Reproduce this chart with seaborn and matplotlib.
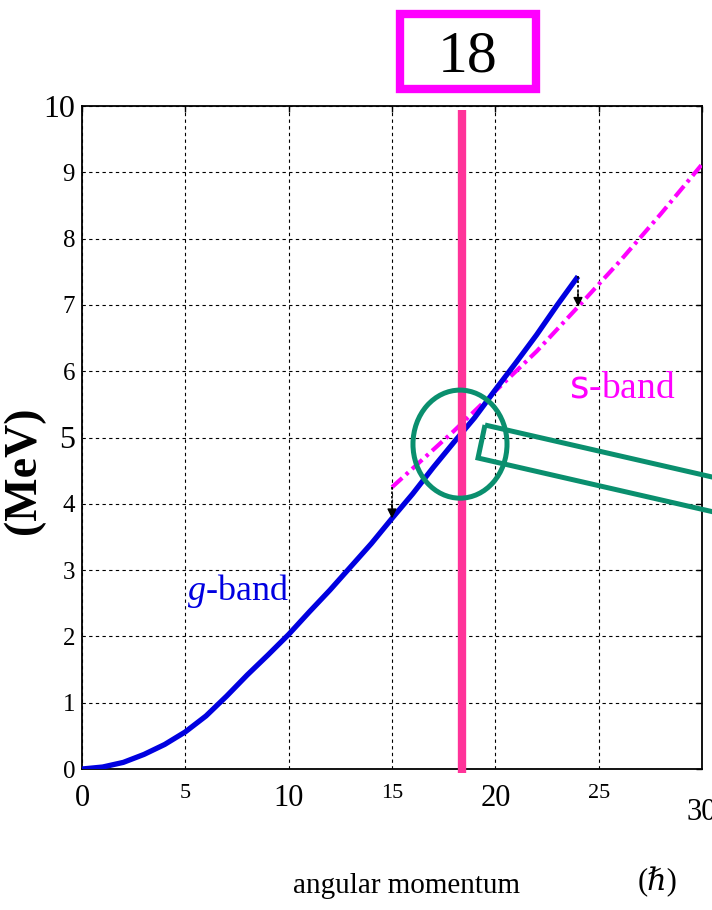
import matplotlib
matplotlib.use("Agg")
import numpy as np
import pandas as pd
import matplotlib.pyplot as plt
import seaborn as sns
from matplotlib.patches import Ellipse, Polygon, Rectangle
from matplotlib.transforms import ScaledTranslation

# ---------------- data ----------------
g_spin = [0, 1, 2, 3, 4, 5, 6, 7, 8, 9, 10, 11, 12, 13, 14, 15, 16, 17, 18, 19, 20, 21, 22, 23, 24]
g_energy = [0.0, 0.03, 0.10, 0.22, 0.37, 0.56, 0.80, 1.10, 1.42, 1.72, 2.03, 2.37, 2.70, 3.05,
            3.40, 3.78, 4.15, 4.55, 4.93, 5.30, 5.72, 6.13, 6.55, 7.00, 7.43]
s_spin = [15, 18, 20, 22, 24, 26, 28, 30]
s_energy = [4.25, 5.10, 5.70, 6.30, 6.97, 7.65, 8.37, 9.12]
crossing_spin = 18.4
x_ticks = [0, 5, 10, 15, 20, 25, 30]
y_ticks = [0, 1, 2, 3, 4, 5, 6, 7, 8, 9, 10]
title_text = "18"
x_label = "angular momentum"
x_unit = "(ℏ)"
y_label = "(MeV)"
g_label = "$g$-band"
s_label = r"$\mathsf{s}$-band"

g_df = pd.DataFrame({"I": g_spin, "E": g_energy})
s_df = pd.DataFrame({"I": s_spin, "E": s_energy})

# ---------------- style ----------------
sns.set_theme(style="white")
plt.rcParams["font.family"] = ["Liberation Serif", "DejaVu Serif"]
plt.rcParams["mathtext.fontset"] = "custom"
plt.rcParams["mathtext.rm"] = "Liberation Serif"
plt.rcParams["mathtext.it"] = "Liberation Serif:italic"
plt.rcParams["mathtext.sf"] = "DejaVu Sans"
for k in ["text.color", "axes.labelcolor", "xtick.color", "ytick.color", "axes.edgecolor"]:
    plt.rcParams[k] = "black"

BLUE = "#0000E0"
MAGENTA = "#FF00FF"
PINK = "#FF3399"
GREEN = "#0A8F6E"

W, H = 712, 910
fig = plt.figure(figsize=(W / 100, H / 100), dpi=100)
ax = fig.add_axes([82 / W, 1 - 769 / H, 620 / W, 663 / H])

ax.set_xlim(0, 30)
ax.set_ylim(0, 10)

# grid
ax.grid(True, color="black", linestyle=(0, (3, 3)), linewidth=0.8)
ax.set_axisbelow(True)

# lines
sns.lineplot(data=g_df, x="I", y="E", color=BLUE, lw=3.8, ax=ax, sort=True,
             estimator=None, solid_capstyle="butt", zorder=4)
sns.lineplot(data=s_df, x="I", y="E", color=MAGENTA, lw=3.0, ax=ax, sort=True,
             estimator=None, zorder=3)
ax.lines[-1].set_dashes([3.3, 1.2, 0.8, 1.2])

# arrows between bands
for xa, y_from, y_to in [
    (s_spin[0], s_energy[0], np.interp(s_spin[0], g_spin, g_energy)),
    (g_spin[-1], g_energy[-1], np.interp(g_spin[-1], s_spin, s_energy)),
]:
    ax.plot([xa, xa], [y_from, y_to + 0.15], color="black", lw=1.2,
            linestyle=(0, (1.5, 1.2)), zorder=5)
    ax.annotate("", xy=(xa, y_to), xytext=(xa, y_to + 0.22),
                arrowprops=dict(arrowstyle="-|>", color="black", lw=1.0,
                                mutation_scale=14, shrinkA=0, shrinkB=0), zorder=5)

# vertical crossing marker
ax.vlines(crossing_spin, -0.06, 9.94, color=PINK, lw=6, zorder=6, clip_on=False)

# green circle around the crossing
ax.add_patch(Ellipse((18.29, 4.9), 4.55, 1.63, fill=False, ec=GREEN, lw=3.6,
                     zorder=7, clip_on=False))
# green bar leading out to the right
pts_px = [(485, 425), (885, 516.6), (878, 549.6), (478, 458)]
fig.add_artist(Polygon([(x / W, 1 - y / H) for x, y in pts_px], closed=True,
                       fill=False, ec=GREEN, lw=3.6, transform=fig.transFigure,
                       zorder=7))

# band labels
ax.text(5.1, 2.55, g_label, color=BLUE, fontsize=26, va="baseline", ha="left")
ax.text(23.55, 5.61, s_label, color=MAGENTA, fontsize=27, va="baseline", ha="left")

# ticks
ax.set_xticks(x_ticks)
ax.set_yticks(y_ticks)
ax.set_xticklabels([str(v) for v in x_ticks])
ax.set_yticklabels([str(v) for v in y_ticks])
ax.tick_params(axis="both", which="major", direction="in", length=4, width=1,
               color="black", top=True, right=True, labelcolor="black")
ax.tick_params(axis="x", pad=11)
ax.tick_params(axis="y", pad=5)
for tick, v in zip(ax.xaxis.get_major_ticks(), x_ticks):
    tick.label1.set_fontsize(22 if v % 10 == 0 else 16)
    if v == 30:
        tick.label1.set_transform(tick.label1.get_transform()
                                  + ScaledTranslation(0, -0.14, fig.dpi_scale_trans))
for tick, v in zip(ax.yaxis.get_major_ticks(), y_ticks):
    tick.label1.set_fontsize(23 if v in (5, 10) else 18)

for sp in ax.spines.values():
    sp.set_visible(True)
    sp.set_color("black")
    sp.set_linewidth(1.3)

# axis labels
ax.set_xlabel(x_label, fontsize=21, va="baseline", color="black")
ax.xaxis.set_label_coords(0.524, -0.187)
ax.set_ylabel(y_label, fontsize=33, fontweight="bold", va="center", color="black")
ax.yaxis.set_label_coords(-0.094, 0.451)
ax.text(658 / W, 1 - 882 / H, x_unit, transform=fig.transFigure, fontsize=22,
        ha="center", va="center", family=["Liberation Serif", "DejaVu Serif"])

# title box
fig.add_artist(Rectangle((400 / W, 1 - 89 / H), 136 / W, 75 / H, fill=False,
                         ec=MAGENTA, lw=6, transform=fig.transFigure))
fig.text(468 / W, 1 - 72 / H, title_text, fontsize=43, ha="center", va="baseline",
         color="black")

fig.savefig("out.png", dpi=100)
